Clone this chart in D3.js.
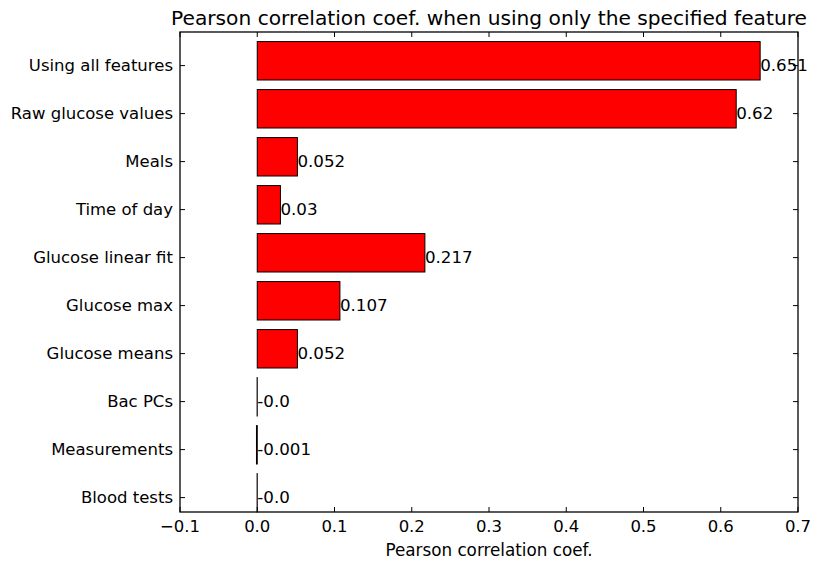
<!DOCTYPE html>
<html>
<head>
<meta charset="utf-8">
<script src="https://cdn.jsdelivr.net/npm/d3@7"></script>
<style>
body { margin: 0; background: #fff; }
text { font-family: "DejaVu Sans", sans-serif; fill: #000; }
</style>
</head>
<body>
<script>
// data, listed top to bottom as in the picture
var features = ["Using all features", "Raw glucose values", "Meals", "Time of day",
    "Glucose linear fit", "Glucose max", "Glucose means", "Bac PCs",
    "Measurements", "Blood tests"];
var coefs = [0.651, 0.62, 0.052, 0.03, 0.217, 0.107, 0.052, -0.0002, -0.001, -0.0002];
var xticks = [-0.1, 0.0, 0.1, 0.2, 0.3, 0.4, 0.5, 0.6, 0.7];

var width = 822;
var height = 570;
var pl = 180, pr = 798, pt = 32, pb = 512;

var svg = d3.select("body").append("svg")
    .attr("width", width)
    .attr("height", height);

var x = d3.scaleLinear().domain([-0.1, 0.7]).range([pl, pr]);
var y = d3.scaleLinear().domain([0, features.length]).range([pb, pt]);
var n = features.length;

// python-like str(round(v, 3))
function fmt(v) {
    var r = Math.round(v * 1000) / 1000;
    if (r === 0) return v < 0 ? "-0.0" : "0.0";
    var s = String(r);
    if (s.indexOf(".") < 0) s += ".0";
    return s;
}

// bars: row i (from bottom) covers [i, i+0.8]
svg.selectAll("rect.bar")
    .data(coefs)
    .enter().append("rect")
    .attr("class", "bar")
    .attr("x", function(d) { return Math.min(x(0), x(d)); })
    .attr("width", function(d) { return Math.abs(x(d) - x(0)); })
    .attr("y", function(d, i) { return y(n - 1 - i + 0.8); })
    .attr("height", function(d, i) { return y(n - 1 - i) - y(n - 1 - i + 0.8); })
    .attr("fill", "#ff0000")
    .attr("stroke", "#000")
    .attr("stroke-width", 1);

// value labels
svg.selectAll("text.val")
    .data(coefs)
    .enter().append("text")
    .attr("class", "val")
    .attr("x", function(d) { return x(Math.max(d, 0)); })
    .attr("y", function(d, i) { return y(n - 1 - i + 0.3); })
    .attr("dy", "0.35em")
    .style("font-size", "16.7px")
    .text(fmt);

// frame
svg.append("rect")
    .attr("x", pl).attr("y", pt)
    .attr("width", pr - pl).attr("height", pb - pt)
    .attr("fill", "none")
    .attr("stroke", "#000")
    .attr("stroke-width", 1.3);

var tl = 5;
// x ticks (bottom and top, inward)
xticks.forEach(function(t) {
    svg.append("line")
        .attr("x1", x(t)).attr("x2", x(t))
        .attr("y1", pb).attr("y2", pb - tl)
        .attr("stroke", "#000");
    svg.append("line")
        .attr("x1", x(t)).attr("x2", x(t))
        .attr("y1", pt).attr("y2", pt + tl)
        .attr("stroke", "#000");
    svg.append("text")
        .attr("x", x(t))
        .attr("y", pb + 20)
        .attr("text-anchor", "middle")
        .style("font-size", "16.5px")
        .text(t < 0 ? "\u2212" + Math.abs(t).toFixed(1) : t.toFixed(1));
});

// y ticks (left and right, inward) at i+0.3
features.forEach(function(f, i) {
    var yy = y(n - 1 - i + 0.3);
    svg.append("line")
        .attr("x1", pl).attr("x2", pl + tl)
        .attr("y1", yy).attr("y2", yy)
        .attr("stroke", "#000");
    svg.append("line")
        .attr("x1", pr).attr("x2", pr - tl)
        .attr("y1", yy).attr("y2", yy)
        .attr("stroke", "#000");
    svg.append("text")
        .attr("x", pl - 7)
        .attr("y", yy)
        .attr("dy", "0.35em")
        .attr("text-anchor", "end")
        .style("font-size", "16.5px")
        .text(f);
});

svg.append("text")
    .attr("x", (pl + pr) / 2)
    .attr("y", 556)
    .attr("text-anchor", "middle")
    .style("font-size", "16.8px")
    .text("Pearson correlation coef.");

svg.append("text")
    .attr("x", (pl + pr) / 2)
    .attr("y", 25)
    .attr("text-anchor", "middle")
    .style("font-size", "20.2px")
    .text("Pearson correlation coef. when using only the specified feature");
</script>
</body>
</html>
